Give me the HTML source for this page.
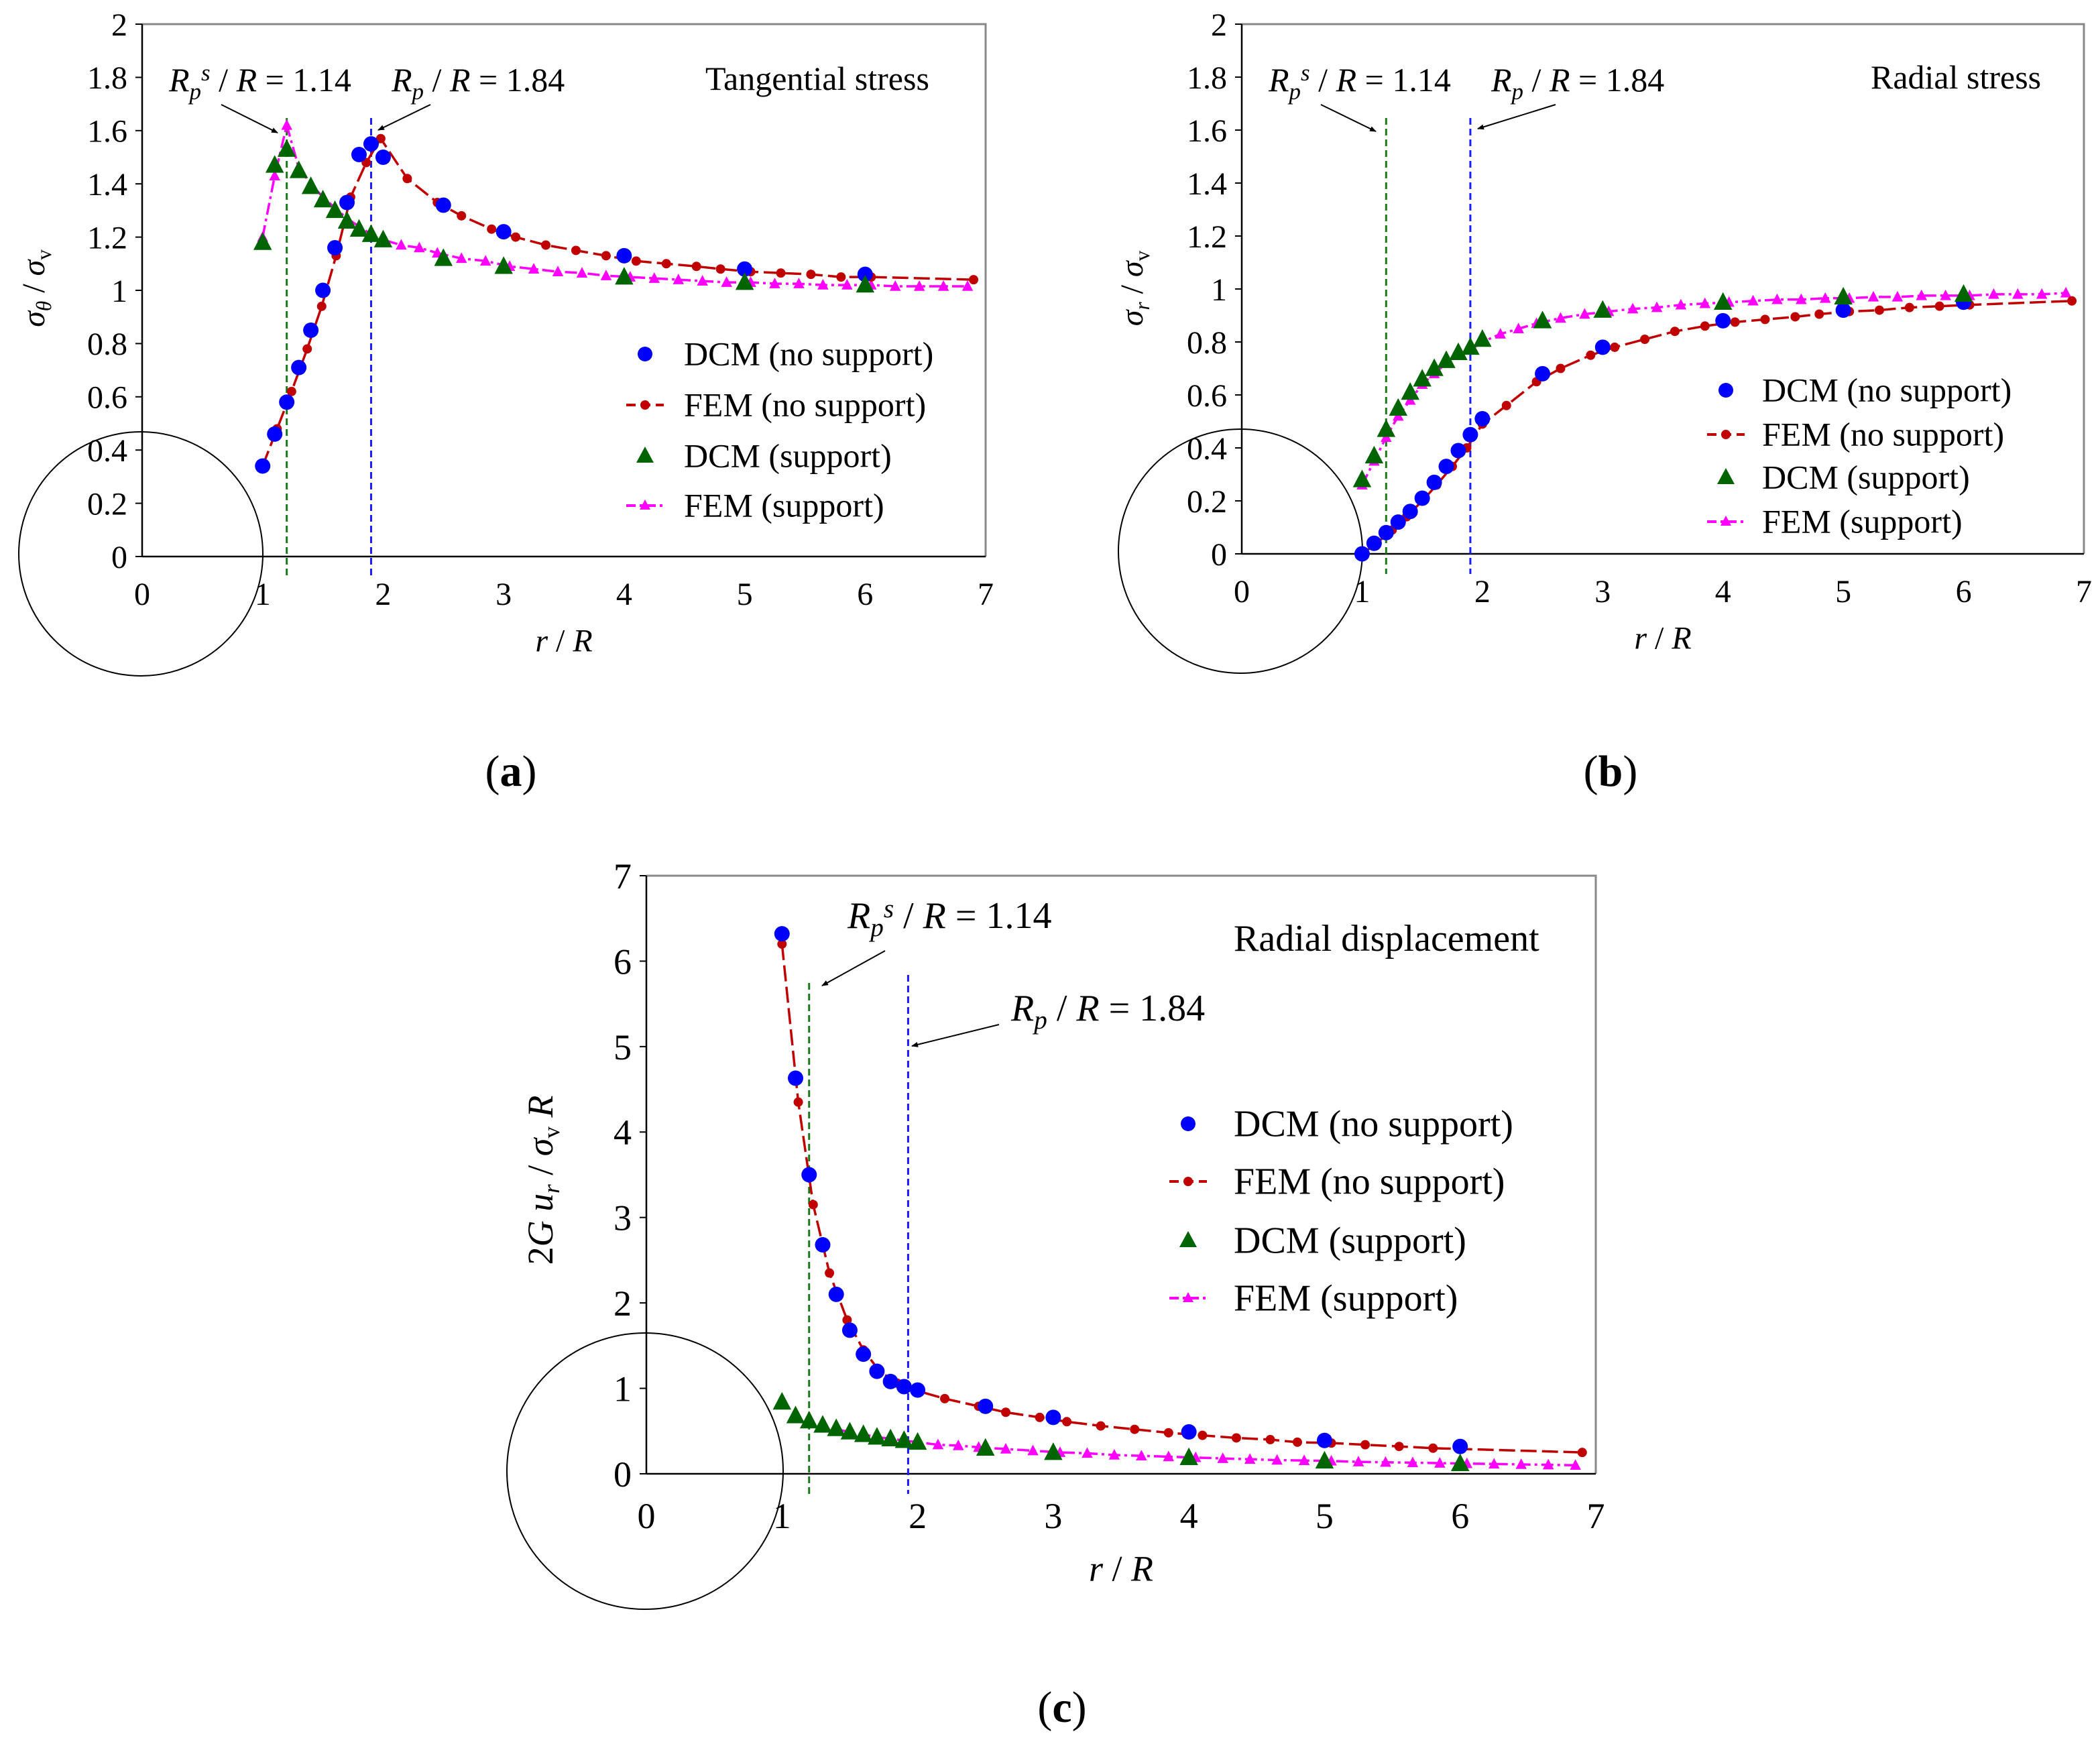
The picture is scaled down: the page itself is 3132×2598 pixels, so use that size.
<!DOCTYPE html>
<html><head><meta charset="utf-8">
<style>
html,body{margin:0;padding:0;background:#fff;}
svg{display:block;font-family:"Liberation Serif","Times New Roman",serif;}
svg text{font-family:"Liberation Serif","Times New Roman",serif;}
</style></head>
<body>
<svg id="fig" width="3132" height="2598" viewBox="0 0 3132 2598" xmlns="http://www.w3.org/2000/svg" font-family="Liberation Serif, serif">
<defs>
<marker id="ah" markerWidth="10" markerHeight="8" refX="9" refY="4" orient="auto" markerUnits="userSpaceOnUse" viewBox="0 0 10 8"><path d="M0,0 L10,4 L0,8 z" fill="#000"/></marker>
</defs>
</svg>
<script>
// ---- Panel (a) data: tangential stress ----
const aDcmNoX = [1,1.1,1.2,1.3,1.4,1.5,1.6,1.7,1.8,1.9,2.0,2.5,3,4,5,6];
const aDcmNoY = [0.34,0.46,0.58,0.71,0.85,1.0,1.16,1.33,1.51,1.55,1.50,1.32,1.22,1.13,1.08,1.06];
const aFemNoX = [1.0,1.12,1.24,1.37,1.49,1.61,1.73,1.86,1.98,2.2,2.45,2.65,2.9,3.1,3.35,3.6,3.85,4.1,4.35,4.6,4.8,5.05,5.3,5.55,5.8,6.05,6.9];
const aFemNoY = [0.34,0.48,0.62,0.78,0.94,1.13,1.35,1.48,1.57,1.42,1.33,1.28,1.23,1.20,1.17,1.15,1.13,1.11,1.10,1.09,1.08,1.07,1.065,1.06,1.05,1.05,1.04];
const aDcmSX = [1,1.1,1.2,1.3,1.4,1.5,1.6,1.7,1.8,1.9,2.0,2.5,3,4,5,6];
const aDcmSY = [1.18,1.47,1.53,1.45,1.39,1.34,1.30,1.26,1.23,1.21,1.19,1.12,1.09,1.05,1.03,1.02];
const aFemSX = [1.0,1.1,1.2,1.3,1.4,1.5,1.6,1.7,1.8,1.9,2.0,2.15,2.3,2.45,2.65,2.85,3.05,3.25,3.45,3.65,3.85,4.05,4.25,4.45,4.65,4.85,5.05,5.25,5.45,5.65,5.85,6.05,6.25,6.45,6.65,6.85];
const aFemSY = [1.2,1.43,1.62,1.46,1.40,1.35,1.31,1.27,1.24,1.21,1.19,1.17,1.16,1.14,1.12,1.11,1.09,1.08,1.07,1.065,1.055,1.05,1.045,1.04,1.035,1.03,1.03,1.025,1.025,1.02,1.02,1.02,1.015,1.015,1.015,1.015];
// ---- Panel (b) data: radial stress ----
const bDcmNoX = [1,1.1,1.2,1.3,1.4,1.5,1.6,1.7,1.8,1.9,2.0,2.5,3,4,5,6];
const bDcmNoY = [0.0,0.04,0.08,0.12,0.16,0.21,0.27,0.33,0.39,0.45,0.51,0.68,0.78,0.88,0.92,0.95];
const bFemNoX = [1.0,1.12,1.25,1.37,1.5,1.62,1.75,1.87,2.0,2.2,2.45,2.65,2.9,3.1,3.35,3.6,3.85,4.1,4.35,4.6,4.8,5.05,5.3,5.55,5.8,6.05,6.9];
const bFemNoY = [0,0.04,0.09,0.14,0.2,0.26,0.33,0.4,0.49,0.56,0.65,0.70,0.75,0.78,0.81,0.84,0.86,0.875,0.885,0.895,0.905,0.915,0.92,0.93,0.935,0.94,0.955];
const bDcmSX = [1,1.1,1.2,1.3,1.4,1.5,1.6,1.7,1.8,1.9,2.0,2.5,3,4,5,6];
const bDcmSY = [0.28,0.37,0.47,0.55,0.61,0.66,0.70,0.73,0.76,0.78,0.81,0.88,0.92,0.95,0.97,0.98];
const bFemSX = [1.0,1.1,1.2,1.3,1.4,1.5,1.6,1.7,1.8,1.9,2.0,2.15,2.3,2.45,2.65,2.85,3.05,3.25,3.45,3.65,3.85,4.05,4.25,4.45,4.65,4.85,5.05,5.25,5.45,5.65,5.85,6.05,6.25,6.45,6.65,6.85];
const bFemSY = [0.26,0.35,0.44,0.52,0.58,0.64,0.68,0.72,0.75,0.77,0.80,0.83,0.85,0.87,0.89,0.905,0.915,0.925,0.93,0.94,0.945,0.95,0.955,0.96,0.96,0.965,0.965,0.97,0.97,0.975,0.975,0.975,0.98,0.98,0.98,0.985];
// ---- Panel (c) data: radial displacement ----
const cDcmNoX = [1,1.1,1.2,1.3,1.4,1.5,1.6,1.7,1.8,1.9,2.0,2.5,3,4,5,6];
const cDcmNoY = [6.32,4.63,3.5,2.68,2.1,1.68,1.4,1.2,1.08,1.02,0.98,0.79,0.66,0.49,0.39,0.32];
const cFemNoX = [1.0,1.12,1.23,1.35,1.48,1.6,1.72,1.85,2.0,2.2,2.45,2.65,2.9,3.1,3.35,3.6,3.85,4.1,4.35,4.6,4.8,5.05,5.3,5.55,5.8,6.9];
const cFemNoY = [6.2,4.35,3.15,2.35,1.8,1.45,1.2,1.06,0.97,0.88,0.79,0.72,0.66,0.61,0.56,0.52,0.48,0.45,0.42,0.40,0.37,0.36,0.34,0.32,0.30,0.25];
const cDcmSX = [1,1.1,1.2,1.3,1.4,1.5,1.6,1.7,1.8,1.9,2.0,2.5,3,4,5,6];
const cDcmSY = [0.84,0.68,0.62,0.57,0.53,0.49,0.46,0.43,0.41,0.39,0.37,0.3,0.25,0.19,0.15,0.12];
const cFemSX = [1.4,1.5,1.6,1.7,1.8,1.9,2.0,2.15,2.3,2.45,2.65,2.85,3.05,3.25,3.45,3.65,3.85,4.05,4.25,4.45,4.65,4.85,5.05,5.25,5.45,5.65,5.85,6.05,6.25,6.45,6.65,6.85];
const cFemSY = [0.52,0.49,0.46,0.43,0.41,0.39,0.37,0.34,0.33,0.31,0.29,0.27,0.25,0.24,0.22,0.21,0.2,0.19,0.18,0.17,0.16,0.155,0.15,0.14,0.135,0.13,0.125,0.12,0.115,0.11,0.105,0.1];

const NS = "http://www.w3.org/2000/svg";
const svg = document.getElementById('fig');
function mk(tag, attrs, parent){
  const e = document.createElementNS(NS, tag);
  for (const k in attrs) e.setAttribute(k, attrs[k]);
  (parent||svg).appendChild(e);
  return e;
}
function txt(parent, x, y, s, size, extra){
  const t = mk('text', Object.assign({x:x, y:y, 'font-size':size, 'font-family':'Liberation Serif, Times New Roman, serif'}, extra||{}), parent);
  t.innerHTML = s;
  return t;
}

function panel(cfg){
  const g = mk('g', {});
  
  
  const sx = v => cfg.x0 + (cfg.x1 - cfg.x0) * v / 7;
  const sy = v => cfg.y0 - (cfg.y0 - cfg.y1) * v / cfg.ymax;
  const fr = mk('path', {d:`M${sx(0)},${sy(cfg.ymax)} H${sx(7)} V${sy(0)}`, fill:'none', stroke:'#888', 'stroke-width':3}, g);
  
  
  const ya = mk('line', {x1:sx(0), y1:sy(cfg.ymax), x2:sx(0), y2:sy(0), stroke:'#000', 'stroke-width':2.5}, g);
  
  
  const xa = mk('line', {x1:sx(0), y1:sy(0), x2:sx(7), y2:sy(0), stroke:'#000', 'stroke-width':2.5}, g);
  
  
  cfg.yticks.forEach((v, i) => {
    mk('line', {x1:sx(0)-10, y1:sy(v), x2:sx(0), y2:sy(v), stroke:'#000', 'stroke-width':2}, g);
    const t = txt(g, sx(0)-22, sy(v)+cfg.fs*0.35, cfg.ylabels[i], cfg.fs, {'text-anchor':'end'});
    
    
  });
  for (let v = 0; v <= 7; v++) {
    const t = txt(g, sx(v), sy(0)+cfg.fs*1.5, String(v), cfg.fs, {'text-anchor':'middle'});
    
    
  }
  const c = mk('circle', {cx:sx(0)-2, cy:sy(0)-4, r:cfg.cr, fill:'none', stroke:'#000', 'stroke-width':2}, g);
  
  
  const xt = txt(g, (sx(0)+sx(7))/2 + cfg.xtOff, sy(0)+cfg.fs*2.95, '<tspan font-style="italic">r</tspan>  /  <tspan font-style="italic">R</tspan>', cfg.fs, {'text-anchor':'middle', 'xml:space':'preserve'});
  
  
  const yt = txt(g, 0, 0, cfg.ytitle, cfg.fs, {'text-anchor':'middle', transform:`translate(${cfg.ytx},${cfg.yty}) rotate(-90)`});
  
  
  const vg = mk('line', {x1:sx(1.2), y1:cfg.vTop, x2:sx(1.2), y2:sy(0)+30, stroke:'#1a7a1a', 'stroke-width':3, 'stroke-dasharray':'10,6'}, g);
  
  
  const vb = mk('line', {x1:sx(cfg.bx), y1:cfg.vTopB, x2:sx(cfg.bx), y2:sy(0)+30, stroke:'#1a1aff', 'stroke-width':3, 'stroke-dasharray':'10,6'}, g);
  
  
  function line(xs, ys, color, dash, nm){
    const d = xs.map((x,i)=>(i?'L':'M')+sx(x).toFixed(1)+','+sy(ys[i]).toFixed(1)).join(' ');
    const p = mk('path', {d:d, fill:'none', stroke:color, 'stroke-width':3.5, 'stroke-dasharray':dash}, g);
    
    
  }
  function dots(xs, ys, color, r, nm){
    xs.forEach((x,i)=>{
      const e = mk('circle', {cx:sx(x), cy:sy(ys[i]), r:r, fill:color}, g);
      
      
    });
  }
  function tris(xs, ys, color, s, nm){
    xs.forEach((x,i)=>{
      const X = sx(x), Y = sy(ys[i]);
      const e = mk('path', {d:`M${X},${Y-s*0.6} L${X+s*0.55},${Y+s*0.45} L${X-s*0.55},${Y+s*0.45} Z`, fill:color}, g);
      
      
    });
  }
  line(cfg.femSX, cfg.femSY, '#ff00ff', '18,6,4,6', 'fem-support-line');
  tris(cfg.femSX, cfg.femSY, '#ff00ff', 15, 'fem-support-point');
  line(cfg.femNoX, cfg.femNoY, '#c00000', '24,8', 'fem-no-support-line');
  dots(cfg.femNoX, cfg.femNoY, '#c00000', 7, 'fem-no-support-point');
  dots(cfg.dcmNoX, cfg.dcmNoY, '#0000ff', 11.5, 'dcm-no-support-point');
  tris(cfg.dcmSX, cfg.dcmSY, '#006400', 25, 'dcm-support-point');
  cfg.ann.forEach(a=>{
    const t = txt(g, a.x, a.y, a.s, cfg.afs, {});
    
    
    if (a.ar) {
      const l = mk('line', {x1:a.ar[0], y1:a.ar[1], x2:a.ar[2], y2:a.ar[3], stroke:'#000', 'stroke-width':2, 'marker-end':'url(#ah)'}, g);
      
      
    }
  });
  const lg = mk('g', {}, g);
  
  
  const L = cfg.leg, names = ['DCM (no support)','FEM (no support)','DCM (support)','FEM (support)'];
  names.forEach((n,i)=>{
    const y = L.ys[i], mx = L.mx;
    const ent = mk('g', {}, lg);
    
    
    if (i===0) mk('circle', {cx:mx, cy:y, r:11, fill:'#0000ff'}, ent);
    if (i===1) { mk('line', {x1:mx-28, y1:y, x2:mx+28, y2:y, stroke:'#c00000', 'stroke-width':4, 'stroke-dasharray':'14,8'}, ent); mk('circle', {cx:mx, cy:y, r:7, fill:'#c00000'}, ent); }
    if (i===2) mk('path', {d:`M${mx},${y-14} L${mx+13},${y+10} L${mx-13},${y+10} Z`, fill:'#006400'}, ent);
    if (i===3) { mk('line', {x1:mx-28, y1:y, x2:mx+28, y2:y, stroke:'#ff00ff', 'stroke-width':4, 'stroke-dasharray':'14,6,4,6'}, ent); mk('path', {d:`M${mx},${y-9} L${mx+8},${y+6} L${mx-8},${y+6} Z`, fill:'#ff00ff'}, ent); }
    txt(ent, L.tx, y + L.fs*0.33, n, L.fs, {});
  });
  const pl = txt(g, cfg.lx, cfg.ly, '(<tspan font-weight="bold">'+cfg.letter+'</tspan>)', 66, {'text-anchor':'middle'});
  
  
}

const RPS = '<tspan font-style="italic">R</tspan><tspan font-style="italic" font-size="70%" dy="12">p</tspan><tspan font-style="italic" font-size="70%" dy="-28">s</tspan><tspan dy="16"> / </tspan><tspan font-style="italic">R</tspan> = 1.14';
const RP = '<tspan font-style="italic">R</tspan><tspan font-style="italic" font-size="70%" dy="12">p</tspan><tspan dy="-12"> / </tspan><tspan font-style="italic">R</tspan> = 1.84';
const yt2 = ['0','0.2','0.4','0.6','0.8','1','1.2','1.4','1.6','1.8','2'];
const yv2 = [0,0.2,0.4,0.6,0.8,1,1.2,1.4,1.6,1.8,2];

panel({name:'panel-a-tangential-stress', x0:212, x1:1470, y0:830, y1:36, ymax:2, fs:48, afs:50,
  yticks:yv2, ylabels:yt2, cr:182, xtOff:0,
  ytitle:'<tspan font-style="italic">σ</tspan><tspan font-style="italic" font-size="65%" dy="10">θ</tspan><tspan dy="-10">  /  </tspan><tspan font-style="italic">σ</tspan><tspan font-size="65%" dy="10">v</tspan>',
  ytx:66, yty:430, vTop:176, vTopB:176, bx:1.9,
  dcmNoX:aDcmNoX, dcmNoY:aDcmNoY, femNoX:aFemNoX, femNoY:aFemNoY, dcmSX:aDcmSX, dcmSY:aDcmSY, femSX:aFemSX, femSY:aFemSY,
  ann:[{x:252,y:136,s:RPS,n:'rps-annotation',ar:[330,156,414,198]},
       {x:584,y:136,s:RP,n:'rp-annotation',ar:[642,156,564,194]},
       {x:1052,y:134,s:'Tangential stress',n:'panel-title'}],
  leg:{mx:962, tx:1020, ys:[528,604,680,754], fs:50}, letter:'a', lx:762, ly:1172});

panel({name:'panel-b-radial-stress', x0:1852, x1:3108, y0:826, y1:36, ymax:2, fs:48, afs:50,
  yticks:yv2, ylabels:yt2, cr:182, xtOff:0,
  ytitle:'<tspan font-style="italic">σ</tspan><tspan font-style="italic" font-size="65%" dy="10">r</tspan><tspan dy="-10">  /  </tspan><tspan font-style="italic">σ</tspan><tspan font-size="65%" dy="10">v</tspan>',
  ytx:1704, yty:430, vTop:176, vTopB:176, bx:1.9,
  dcmNoX:bDcmNoX, dcmNoY:bDcmNoY, femNoX:bFemNoX, femNoY:bFemNoY, dcmSX:bDcmSX, dcmSY:bDcmSY, femSX:bFemSX, femSY:bFemSY,
  ann:[{x:1892,y:136,s:RPS,n:'rps-annotation',ar:[1970,156,2052,196]},
       {x:2224,y:136,s:RP,n:'rp-annotation',ar:[2320,156,2204,192]},
       {x:2790,y:132,s:'Radial stress',n:'panel-title'}],
  leg:{mx:2574, tx:2628, ys:[582,648,712,778], fs:50}, letter:'b', lx:2402, ly:1172});

panel({name:'panel-c-radial-displacement', x0:964, x1:2380, y0:2198, y1:1306, ymax:7, fs:54, afs:56,
  yticks:[0,1,2,3,4,5,6,7], ylabels:['0','1','2','3','4','5','6','7'], cr:206, xtOff:0,
  ytitle:'2<tspan font-style="italic">G u</tspan><tspan font-style="italic" font-size="65%" dy="10">r</tspan><tspan dy="-10">  /  </tspan><tspan font-style="italic">σ</tspan><tspan font-size="65%" dy="10">v</tspan><tspan dy="-10"> </tspan><tspan font-style="italic">R</tspan>',
  ytx:824, yty:1760, vTop:1466, vTopB:1454, bx:1.93,
  dcmNoX:cDcmNoX, dcmNoY:cDcmNoY, femNoX:cFemNoX, femNoY:cFemNoY, dcmSX:cDcmSX, dcmSY:cDcmSY, femSX:cFemSX, femSY:cFemSY,
  ann:[{x:1264,y:1384,s:RPS,n:'rps-annotation',ar:[1320,1418,1226,1470]},
       {x:1508,y:1522,s:RP,n:'rp-annotation',ar:[1490,1528,1360,1560]},
       {x:1840,y:1418,s:'Radial displacement',n:'panel-title'}],
  leg:{mx:1772, tx:1840, ys:[1676,1762,1850,1936], fs:56}, letter:'c', lx:1584, ly:2568});
</script>
</body></html>
